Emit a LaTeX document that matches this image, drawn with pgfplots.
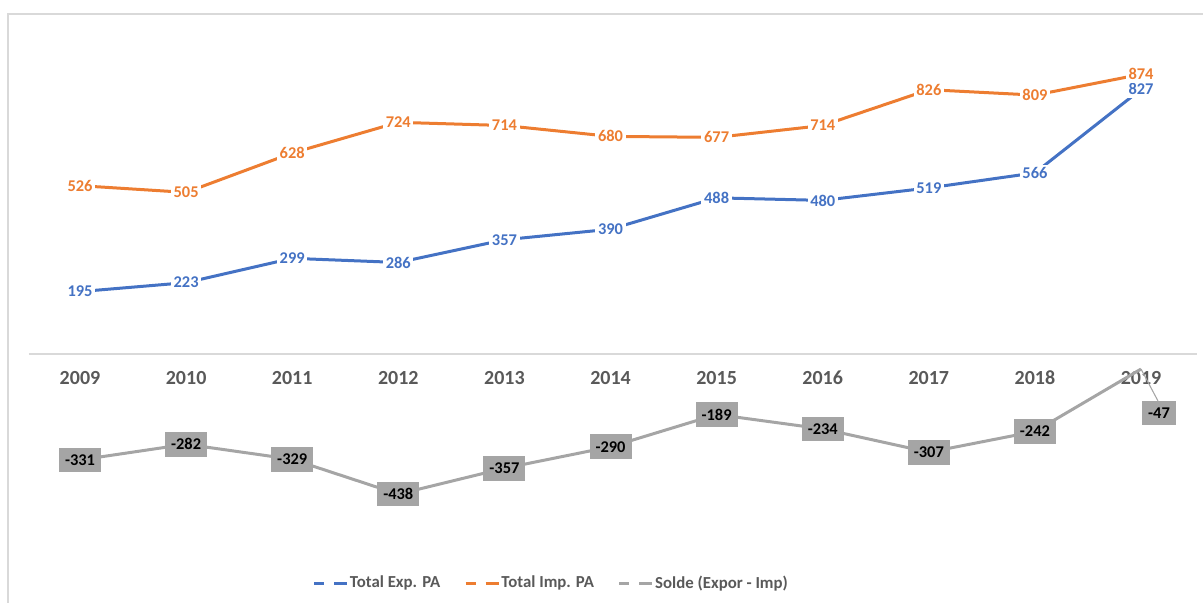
\documentclass[border=0pt]{standalone}
\usepackage{fontspec}
\setmainfont{Carlito}
\usepackage{pgfplots}
\pgfplotsset{compat=1.18}
\definecolor{cexp}{HTML}{4472C4}
\definecolor{cimp}{HTML}{ED7D31}
\definecolor{csol}{HTML}{A5A5A5}
\definecolor{ctxt}{HTML}{595959}
\definecolor{cgrid}{HTML}{D9D9D9}
\begin{document}
\begin{tikzpicture}
\useasboundingbox (0,0) rectangle (902.25pt,452.25pt);
\draw[cgrid, line width=0.9pt] (6pt,-5pt) -- (6pt,441.75pt) -- (910pt,441.75pt);
\begin{axis}[
  at={(0,0)}, anchor=south west,
  scale only axis, width=902.25pt, height=452.25pt,
  xmin=2008.246, xmax=2019.584, ymin=-778.1, ymax=1106.25,
  axis lines=none, clip=false,
  /pgf/number format/assume math mode=true,
  nodes near coords align=center,
  legend style={draw=none, fill=none, at={(rel axis cs:0.458,0.033)}, anchor=center,
    font=\bfseries\fontsize{12.6}{15}\selectfont, text=ctxt,
    nodes={inner sep=1pt},
    /tikz/every even column/.append style={column sep=17pt}},
  legend columns=3,
  legend image code/.code={
    \draw[#1, line width=2.2pt] (0pt,0pt) -- (7.5pt,0pt);
    \draw[#1, line width=2.2pt] (15pt,0pt) -- (24.75pt,0pt);},
]
\draw[cgrid, line width=1pt] (axis cs:2008.519,0) -- (axis cs:2019.528,0);
\pgfplotsinvokeforeach{2009,2010,2011,2012,2013,2014,2015,2016,2017,2018,2019}{
  \node[font=\bfseries\fontsize{15}{18}\selectfont, text=ctxt, anchor=center, yshift=-18pt] at (axis cs:#1,0) {#1};
}
\addplot[cexp, line width=2.25pt, line join=round,
  nodes near coords,
  every node near coord/.style={fill=white, inner sep=2pt, text=cexp, font=\bfseries\fontsize{12.3}{14}\selectfont}]
  coordinates {(2009,195) (2010,223) (2011,299) (2012,286) (2013,357) (2014,390) (2015,488) (2016,480) (2017,519) (2018,566) (2019,827)};
\addlegendentry{Total Exp. PA}
\addplot[cimp, line width=2.25pt, line join=round,
  nodes near coords,
  every node near coord/.style={fill=white, inner sep=2pt, text=cimp, font=\bfseries\fontsize{12.3}{14}\selectfont}]
  coordinates {(2009,526) (2010,505) (2011,628) (2012,724) (2013,714) (2014,680) (2015,677) (2016,714) (2017,826) (2018,809) (2019,874)};
\addlegendentry{Total Imp. PA}
\addplot[csol, line width=0.8pt, forget plot] coordinates {(2019,-47) (2019.16,-147)};
\addplot[csol, line width=2.25pt, line join=round,
  nodes near coords,
  every node near coord/.style={fill=csol, inner xsep=4.5pt, inner ysep=0pt, minimum height=18.5pt, text=black, font=\bfseries\fontsize{12.3}{14}\selectfont},
  coordinate style/.condition={x==2019}{xshift=13.5pt, yshift=-33pt}]
  coordinates {(2009,-331) (2010,-282) (2011,-329) (2012,-438) (2013,-357) (2014,-290) (2015,-189) (2016,-234) (2017,-307) (2018,-242) (2019,-47)};
\addlegendentry{Solde (Expor - Imp)}
\end{axis}
\end{tikzpicture}
\end{document}
